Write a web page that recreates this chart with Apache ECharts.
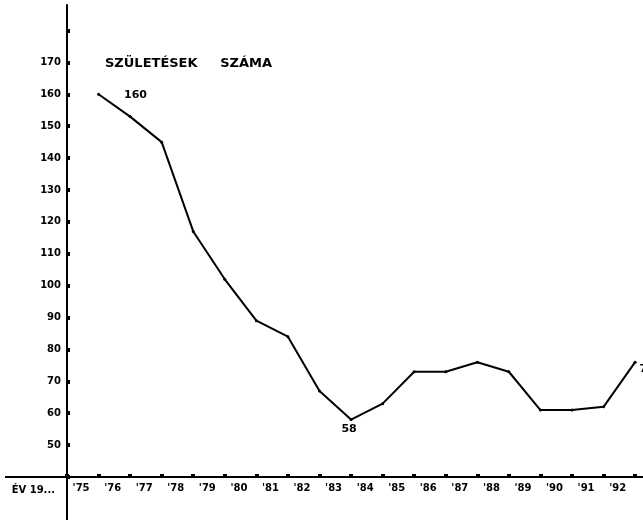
<!DOCTYPE html>
<html>
<head>
<meta charset="utf-8">
<script src="https://cdn.jsdelivr.net/npm/echarts@6/dist/echarts.min.js"></script>
<style>
  html, body { margin: 0; padding: 0; background: #fff; }
  #chart { width: 643px; height: 520px; }
</style>
</head>
<body>
<div id="chart"></div>
<script>
// years on the x axis (two-digit), births per year
const years = [75, 76, 77, 78, 79, 80, 81, 82, 83, 84, 85, 86, 87, 88, 89, 90, 91, 92];
const births = [160, 153, 145, 117, 102, 89, 84, 67, 58, 63, 73, 73, 76, 73, 61, 61, 62, 76];

const xTicks = [74, 75, 76, 77, 78, 79, 80, 81, 82, 83, 84, 85, 86, 87, 88, 89, 90, 91, 92];
const yTicks = [40, 50, 60, 70, 80, 90, 100, 110, 120, 130, 140, 150, 160, 170, 180];
const yLabels = [50, 60, 70, 80, 90, 100, 110, 120, 130, 140, 150, 160, 170];

// hand-written numbers next to some points
const pointNotes = [
  { index: 0, text: "160" },
  { index: 8, text: "58" },
  { index: 17, text: "71" },
];

const title = "SZÜLETÉSEK     SZÁMA";
const xName = "ÉV 19...";

const font = "DejaVu Sans";
const ink = "#000";

const noteStyle = {
  0: { position: "right", distance: 24, offset: [0, 1] },
  8: { position: "bottom", distance: 3, offset: [-2, 0] },
  17: { position: "right", distance: 3, offset: [0, 7] },
};

const chart = echarts.init(document.getElementById("chart"), null, { renderer: "canvas" });

const data = years.map((y, i) => {
  const note = pointNotes.find((n) => n.index === i);
  const item = { value: [y, births[i]] };
  if (note) {
    item.label = {
      show: true,
      formatter: note.text,
      color: ink,
      fontFamily: font,
      fontWeight: "bold",
      fontSize: 11,
      ...noteStyle[i],
    };
  }
  return item;
});

chart.setOption({
  animation: false,
  backgroundColor: "#fff",
  title: {
    text: title,
    left: 100,
    top: 52,
    textStyle: { color: ink, fontFamily: font, fontWeight: "bold", fontSize: 13 },
  },
  grid: { left: 67, right: 0, top: 5, bottom: 43 },
  xAxis: {
    type: "value",
    min: 74,
    max: 92.25,
    name: xName,
    nameLocation: "start",
    nameGap: 12,
    nameTextStyle: {
      color: ink,
      fontFamily: font,
      fontWeight: "bold",
      fontSize: 10,
      verticalAlign: "top",
      padding: [8, 0, 0, 0],
    },
    splitLine: { show: false },
    axisLine: { show: true, lineStyle: { color: ink, width: 2 } },
    axisTick: {
      show: true,
      customValues: xTicks,
      length: 3,
      inside: true,
      lineStyle: { color: ink, width: 4 },
    },
    axisLabel: {
      customValues: years,
      formatter: (v) => "'" + v,
      align: "right",
      padding: [0, 9, 0, 0],
      margin: 6,
      color: ink,
      fontFamily: font,
      fontWeight: "bold",
      fontSize: 10,
    },
  },
  yAxis: {
    type: "value",
    min: 40,
    max: 188,
    splitLine: { show: false },
    axisLine: { show: true, lineStyle: { color: ink, width: 2 } },
    axisTick: {
      show: true,
      customValues: yTicks,
      length: 3,
      inside: true,
      lineStyle: { color: ink, width: 4 },
    },
    axisLabel: {
      customValues: yLabels,
      margin: 6,
      color: ink,
      fontFamily: font,
      fontWeight: "bold",
      fontSize: 10,
    },
  },
  series: [
    {
      type: "line",
      data,
      symbol: "circle",
      symbolSize: 3,
      itemStyle: { color: ink },
      lineStyle: { color: ink, width: 2 },
      clip: false,
    },
  ],
});

// the drawn axes run past the origin: left along the x axis, down along the y axis
const origin = chart.convertToPixel({ gridIndex: 0 }, [xTicks[0], yTicks[0]]);
chart.setOption({
  graphic: [
    {
      type: "line",
      shape: { x1: 5, y1: origin[1], x2: origin[0], y2: origin[1] },
      style: { stroke: ink, lineWidth: 2 },
    },
    {
      type: "line",
      shape: { x1: origin[0], y1: origin[1], x2: origin[0], y2: chart.getHeight() },
      style: { stroke: ink, lineWidth: 2 },
    },
  ],
});
</script>
</body>
</html>
